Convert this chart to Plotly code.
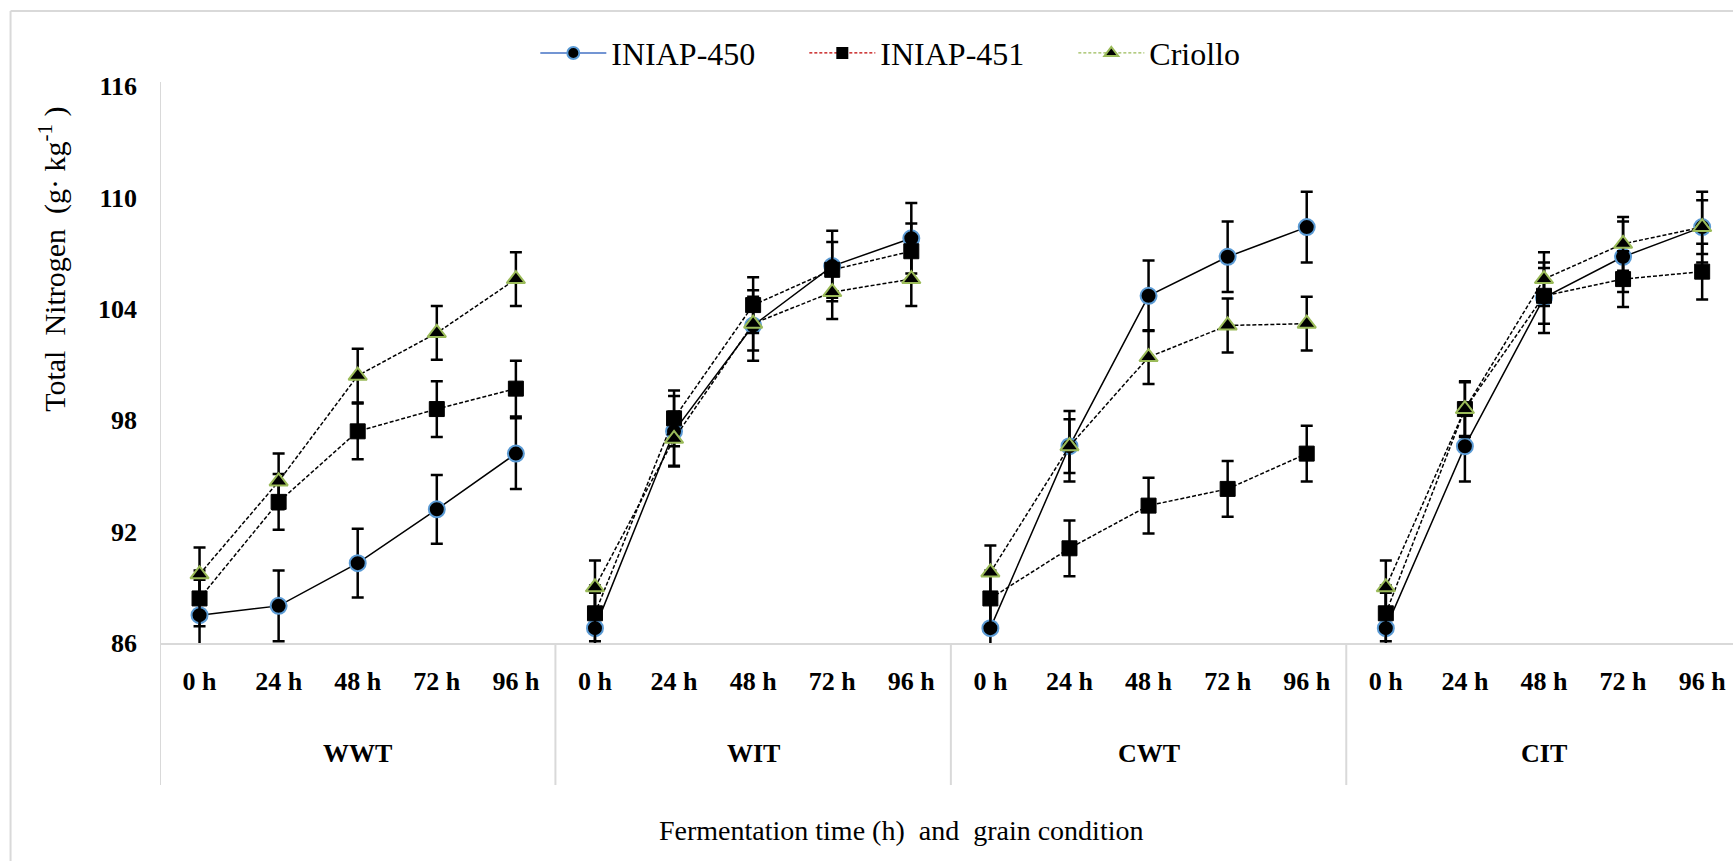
import plotly.graph_objects as go

# ---- data ----
groups = ["WWT", "WIT", "CWT", "CIT"]
hours = ["0 h", "24 h", "48 h", "72 h", "96 h"]

iniap450 = [87.5, 88.0, 90.3, 93.2, 96.2,
            86.8, 97.4, 103.1, 106.3, 107.8,
            86.8, 96.6, 104.7, 106.8, 108.4,
            86.8, 96.6, 104.6, 106.8, 108.4]
iniap451 = [88.4, 93.6, 97.4, 98.6, 99.7,
            87.6, 98.1, 104.2, 106.1, 107.1,
            88.4, 91.1, 93.4, 94.3, 96.2,
            87.6, 98.6, 104.7, 105.6, 106.0]
criollo = [89.7, 94.7, 100.4, 102.7, 105.6,
           89.0, 97.0, 103.2, 104.9, 105.6,
           89.8, 96.6, 101.4, 103.1, 103.2,
           89.0, 98.6, 105.6, 107.5, 108.4]

err450 = [1.9, 1.9, 1.85, 1.85, 1.9,
          1.9, 1.9, 1.9, 1.9, 1.9,
          1.9, 1.9, 1.9, 1.9, 1.9,
          1.9, 1.9, 1.9, 1.9, 1.9]
err451 = [1.5, 1.5, 1.5, 1.5, 1.5,
          1.5, 1.5, 1.5, 1.5, 1.5,
          1.5, 1.5, 1.5, 1.5, 1.5,
          1.5, 1.5, 1.5, 1.5, 1.5]
errCri = [1.45, 1.5, 1.45, 1.45, 1.45,
          1.45, 1.45, 1.45, 1.45, 1.45,
          1.45, 1.45, 1.45, 1.45, 1.45,
          1.45, 1.45, 1.45, 1.45, 1.45]

series_names = ["INIAP-450", "INIAP-451", "Criollo"]

FONT = "Liberation Serif"
GRID = "#D9D9D9"

n = len(hours)
xcat = list(range(len(groups) * n))
tick_text = [h for g in groups for h in hours]

fig = go.Figure()

def eb(arr):
    return dict(type="data", array=arr, visible=True, color="black",
                thickness=2.5, width=6)

styles = [
    dict(line=dict(color="black", width=1.5),
         marker=dict(symbol="circle", size=16, color="black",
                     line=dict(color="#5B9BD5", width=2))),
    dict(line=dict(color="black", width=1.5, dash="4px,2px"),
         marker=dict(symbol="square", size=15, color="black",
                     line=dict(color="black", width=1))),
    dict(line=dict(color="black", width=1.5, dash="4px,2px"),
         marker=dict(symbol="triangle-up", size=16, color="black",
                     line=dict(color="#9BBB59", width=2))),
]
values = [iniap450, iniap451, criollo]
errors = [err450, err451, errCri]

# actual traces, one segment per grain condition
for si in range(3):
    for gi in range(len(groups)):
        sl = slice(gi * n, (gi + 1) * n)
        fig.add_trace(go.Scatter(
            x=xcat[sl], y=values[si][sl], mode="lines+markers",
            showlegend=False, line=styles[si]["line"],
            marker=styles[si]["marker"], error_y=eb(errors[si][sl])))

# legend entries (coloured lines as in the reference legend)
fig.add_trace(go.Scatter(
    x=[None], y=[None], mode="lines+markers", name=series_names[0],
    line=dict(color="#4472C4", width=1.5),
    marker=dict(symbol="circle", size=12, color="black",
                line=dict(color="#5B9BD5", width=2))))
fig.add_trace(go.Scatter(
    x=[None], y=[None], mode="lines+markers", name=series_names[1],
    line=dict(color="#C00000", width=1.2, dash="3px,2px"),
    marker=dict(symbol="square", size=12, color="black")))
fig.add_trace(go.Scatter(
    x=[None], y=[None], mode="lines+markers", name=series_names[2],
    line=dict(color="#9BBB59", width=1.2, dash="3px,2px"),
    marker=dict(symbol="triangle-up", size=12, color="black",
                line=dict(color="#9BBB59", width=2))))

shapes = []
# outer chart border (left and top visible)
shapes.append(dict(type="line", xref="paper", yref="paper",
                   x0=-0.0950, x1=-0.0950, y0=1.1346, y1=-0.60,
                   line=dict(color=GRID, width=2)))
shapes.append(dict(type="line", xref="paper", yref="paper",
                   x0=-0.0950, x1=1.05, y0=1.1346, y1=1.1346,
                   line=dict(color=GRID, width=2)))
# left axis line (extends below into category area)
shapes.append(dict(type="line", xref="x", yref="paper",
                   x0=-0.5, x1=-0.5, y0=1.0072, y1=-0.255,
                   line=dict(color=GRID, width=2)))
# group dividers
for i in range(1, len(groups)):
    xb = i * n - 0.5
    shapes.append(dict(type="line", xref="x", yref="paper",
                       x0=xb, x1=xb, y0=0, y1=-0.255,
                       line=dict(color=GRID, width=2)))

annotations = []
for gi, g in enumerate(groups):
    annotations.append(dict(
        x=gi * n + (n - 1) / 2, xref="x",
        y=-0.199, yref="paper", text="<b>%s</b>" % g, showarrow=False,
        font=dict(family=FONT, size=26, color="black"),
        xanchor="center", yanchor="middle"))
annotations.append(dict(
    x=0.471, xref="paper", y=-0.3375, yref="paper",
    text="Fermentation time (h)  and  grain condition", showarrow=False,
    font=dict(family=FONT, size=28, color="black"),
    xanchor="center", yanchor="middle"))
annotations.append(dict(
    x=-0.0683, xref="paper", y=0.689, yref="paper",
    text="Total  Nitrogen  (g· kg<sup>-1</sup> )", showarrow=False,
    textangle=-90,
    font=dict(family=FONT, size=30, color="black"),
    xanchor="center", yanchor="middle"))

fig.update_layout(
    width=1733, height=861,
    margin=dict(l=160, r=0, t=86, b=218),
    paper_bgcolor="white", plot_bgcolor="white",
    font=dict(family=FONT, color="black"),
    shapes=shapes, annotations=annotations,
    legend=dict(orientation="h", x=0.2386, y=1.059, xanchor="left",
                yanchor="middle", font=dict(family=FONT, size=32,
                                            color="black"),
                itemwidth=66, entrywidth=188, entrywidthmode="pixels",
                bgcolor="rgba(0,0,0,0)"),
    xaxis=dict(range=[-0.5, 19.39], tickmode="array", tickvals=xcat,
               ticktext=tick_text, showgrid=False, zeroline=False,
               showline=True, linecolor=GRID, linewidth=2, ticks="",
               ticklabelstandoff=14,
               tickfont=dict(family=FONT, size=26, weight="bold",
                             color="black")),
    yaxis=dict(range=[86, 116], tickmode="array",
               tickvals=[86, 92, 98, 104, 110, 116],
               showgrid=False, zeroline=False, showline=False, ticks="",
               ticklabelstandoff=22,
               tickfont=dict(family=FONT, size=26, weight="bold",
                             color="black")),
)

fig.write_html("out.html")
